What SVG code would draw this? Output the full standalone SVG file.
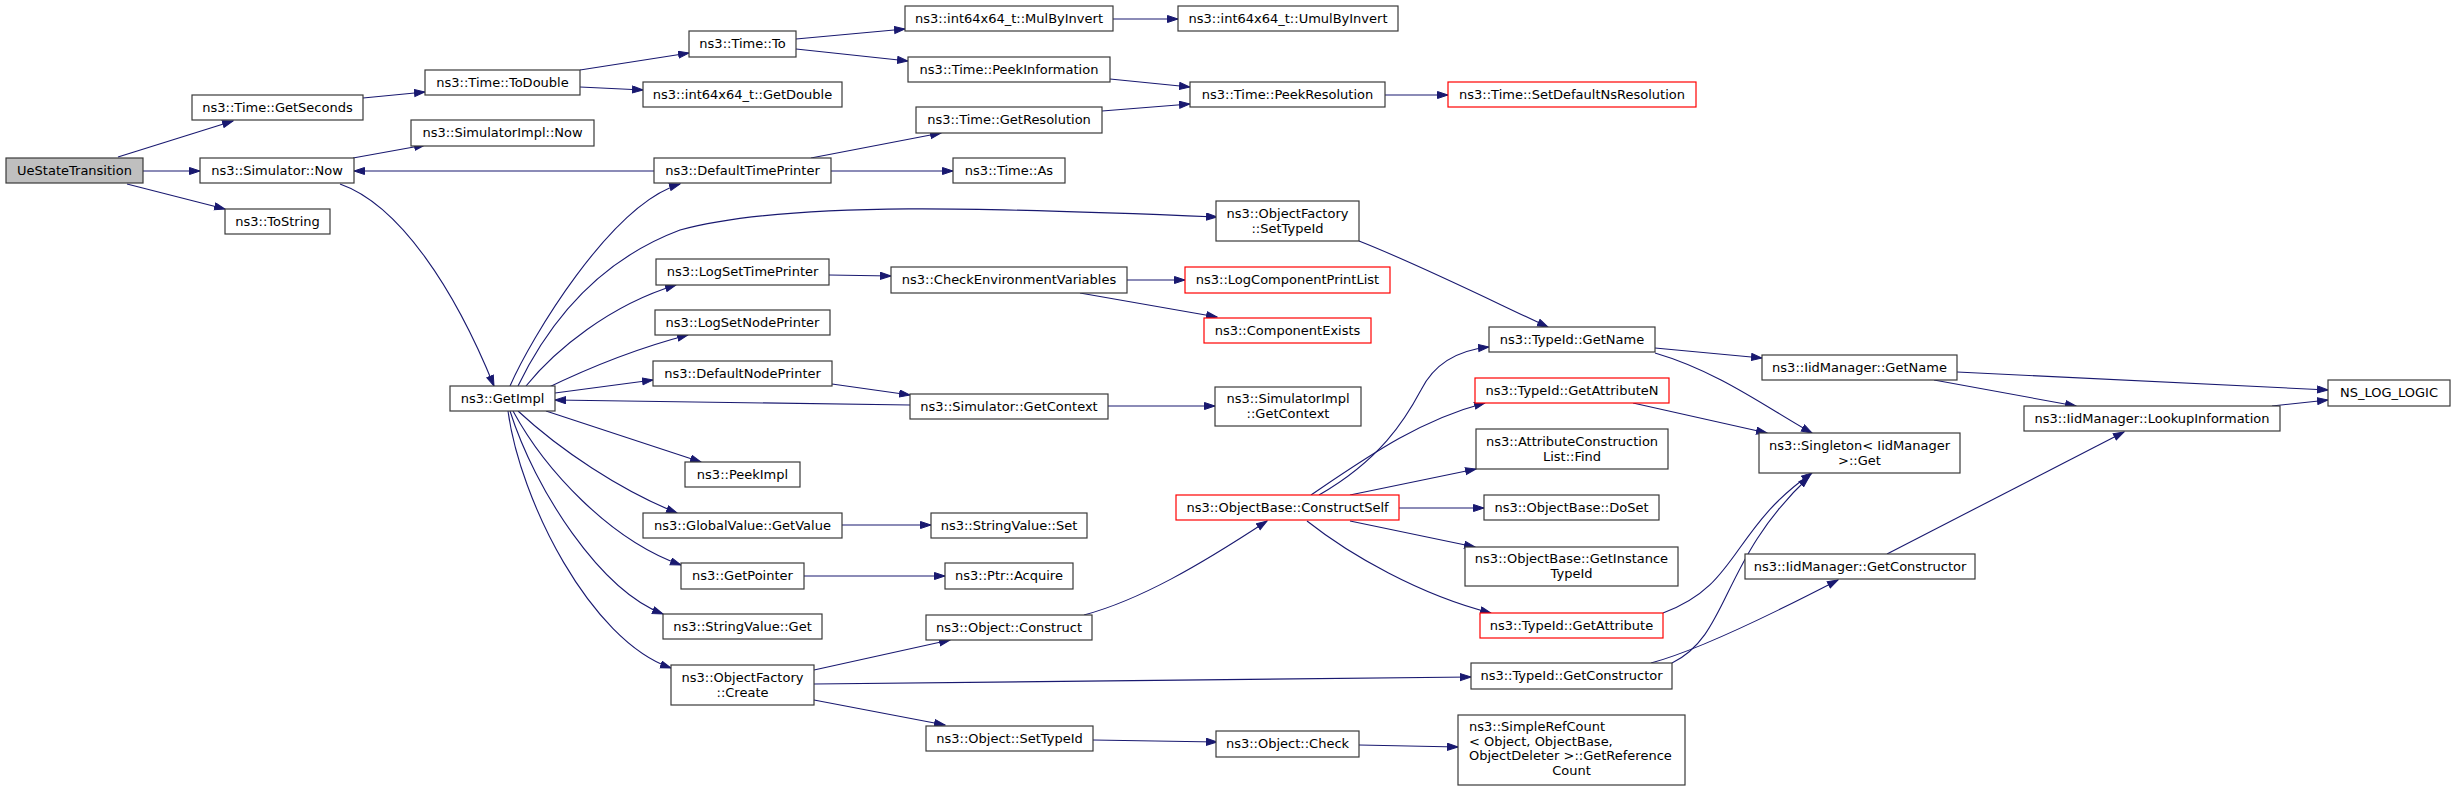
<svg xmlns="http://www.w3.org/2000/svg" width="2456" height="789" viewBox="0 0 2456 789">
<style>
.n rect{fill:#ffffff;stroke:#3a3a3a;stroke-width:1.2}
.n.root rect{fill:#bfbfbf}
.n.red rect{stroke:#ff0000}
.n text{font-family:"DejaVu Sans",sans-serif;font-size:13px;fill:#000000;text-anchor:middle}
.n text.l{text-anchor:start}
#edges path{fill:none;stroke:#191970;stroke-width:1.1;marker-end:url(#ah)}
</style>
<defs>
<marker id="ah" markerUnits="userSpaceOnUse" markerWidth="12" markerHeight="9" refX="11" refY="4" orient="auto">
<path d="M0.5,0.5 L11,4 L0.5,7.5 z" fill="#191970" stroke="#191970" stroke-width="1"/>
</marker>
</defs>
<rect x="0" y="0" width="2456" height="789" fill="#ffffff"/>
<g id="edges">
<path d="M118,157 L233,121"/>
<path d="M143,171 L200,171"/>
<path d="M127,184 L225,209"/>
<path d="M363,98 L425,92"/>
<path d="M580,70 L689,53"/>
<path d="M580,87 L643,90"/>
<path d="M796,39 L905,29"/>
<path d="M796,49 L908,61"/>
<path d="M1113,19 L1178,19"/>
<path d="M1110,79 L1190,87"/>
<path d="M1102,111 L1190,104"/>
<path d="M1385,95 L1448,95"/>
<path d="M353,158 L425,145"/>
<path d="M340,184 C400,205 455,290 494,386"/>
<path d="M654,171 L354,171"/>
<path d="M811,158 L941,133"/>
<path d="M831,171 L953,171"/>
<path d="M510,386 C530,340 610,205 680,184"/>
<path d="M518,386 C550,320 600,260 680,230 C790,200 1000,208 1217,217"/>
<path d="M526,386 C555,350 610,305 676,285"/>
<path d="M545,389 C580,372 630,350 688,335"/>
<path d="M555,393 L653,380"/>
<path d="M910,405 L555,400"/>
<path d="M832,384 L910,395"/>
<path d="M1108,406 L1215,406"/>
<path d="M546,411 L701,462"/>
<path d="M518,411 C560,450 620,490 677,513"/>
<path d="M513,411 C545,470 610,540 681,565"/>
<path d="M510,411 C535,490 600,590 663,614"/>
<path d="M508,411 C520,500 590,640 671,668"/>
<path d="M842,525 L931,525"/>
<path d="M804,576 L945,576"/>
<path d="M814,670 L950,640"/>
<path d="M814,684 L1471,677"/>
<path d="M814,700 L945,725"/>
<path d="M1093,740 L1217,742"/>
<path d="M1359,745 L1458,747"/>
<path d="M1084,615 C1140,600 1200,565 1267,521"/>
<path d="M1319,495 C1380,460 1405,420 1421,390 C1435,362 1460,350 1489,347"/>
<path d="M1311,495 C1370,455 1420,420 1485,403"/>
<path d="M1350,495 L1476,469"/>
<path d="M1399,508 L1484,508"/>
<path d="M1350,521 L1475,547"/>
<path d="M1307,521 C1350,555 1420,595 1491,613"/>
<path d="M1655,348 L1762,358"/>
<path d="M1655,353 C1720,372 1770,410 1812,433"/>
<path d="M1633,403 L1767,433"/>
<path d="M1663,613 C1740,585 1730,530 1812,473"/>
<path d="M1672,663 C1730,635 1720,560 1809,477"/>
<path d="M1651,663 C1700,650 1780,610 1838,580"/>
<path d="M1957,372 L2328,390"/>
<path d="M1934,380 L2076,406"/>
<path d="M1887,554 L2124,432"/>
<path d="M2272,406 L2328,400"/>
<path d="M1127,280 L1185,280"/>
<path d="M1080,293 L1217,317"/>
<path d="M829,275 L891,276"/>
<path d="M1359,241 C1420,265 1490,300 1548,327"/>
</g>
<g id="n_ue" class="n root"><rect x="6" y="158" width="137" height="25"/><text x="74.5" y="174.5">UeStateTransition</text></g>
<g id="n_getseconds" class="n"><rect x="192" y="95" width="171" height="25"/><text x="277.5" y="111.5">ns3::Time::GetSeconds</text></g>
<g id="n_simnow" class="n"><rect x="200" y="158" width="154" height="25"/><text x="277" y="174.5">ns3::Simulator::Now</text></g>
<g id="n_tostring" class="n"><rect x="225" y="209" width="105" height="25"/><text x="277.5" y="225.5">ns3::ToString</text></g>
<g id="n_todouble" class="n"><rect x="425" y="70" width="155" height="25"/><text x="502.5" y="86.5">ns3::Time::ToDouble</text></g>
<g id="n_simimplnow" class="n"><rect x="411" y="120" width="183" height="26"/><text x="502.5" y="137">ns3::SimulatorImpl::Now</text></g>
<g id="n_getimpl" class="n"><rect x="450" y="386" width="105" height="25"/><text x="502.5" y="402.5">ns3::GetImpl</text></g>
<g id="n_timeto" class="n"><rect x="689" y="31" width="107" height="26"/><text x="742.5" y="48">ns3::Time::To</text></g>
<g id="n_getdouble" class="n"><rect x="643" y="82" width="199" height="25"/><text x="742.5" y="98.5">ns3::int64x64_t::GetDouble</text></g>
<g id="n_dtp" class="n"><rect x="654" y="158" width="177" height="25"/><text x="742.5" y="174.5">ns3::DefaultTimePrinter</text></g>
<g id="n_lstp" class="n"><rect x="656" y="259" width="173" height="26"/><text x="742.5" y="276">ns3::LogSetTimePrinter</text></g>
<g id="n_lsnp" class="n"><rect x="655" y="310" width="175" height="25"/><text x="742.5" y="326.5">ns3::LogSetNodePrinter</text></g>
<g id="n_dnp" class="n"><rect x="653" y="361" width="179" height="25"/><text x="742.5" y="377.5">ns3::DefaultNodePrinter</text></g>
<g id="n_peekimpl" class="n"><rect x="685" y="462" width="115" height="25"/><text x="742.5" y="478.5">ns3::PeekImpl</text></g>
<g id="n_gvget" class="n"><rect x="643" y="513" width="199" height="25"/><text x="742.5" y="529.5">ns3::GlobalValue::GetValue</text></g>
<g id="n_getpointer" class="n"><rect x="681" y="563" width="123" height="26"/><text x="742.5" y="580">ns3::GetPointer</text></g>
<g id="n_svget" class="n"><rect x="663" y="614" width="159" height="25"/><text x="742.5" y="630.5">ns3::StringValue::Get</text></g>
<g id="n_ofcreate" class="n"><rect x="671" y="665" width="143" height="40"/><text x="742.5" y="681.5">ns3::ObjectFactory</text><text x="742.5" y="696.5">::Create</text></g>
<g id="n_mulbyinv" class="n"><rect x="905" y="6" width="208" height="25"/><text x="1009" y="22.5">ns3::int64x64_t::MulByInvert</text></g>
<g id="n_peekinfo" class="n"><rect x="908" y="57" width="202" height="25"/><text x="1009" y="73.5">ns3::Time::PeekInformation</text></g>
<g id="n_getres" class="n"><rect x="916" y="107" width="186" height="26"/><text x="1009" y="124">ns3::Time::GetResolution</text></g>
<g id="n_timeas" class="n"><rect x="953" y="158" width="112" height="25"/><text x="1009" y="174.5">ns3::Time::As</text></g>
<g id="n_checkenv" class="n"><rect x="891" y="267" width="236" height="26"/><text x="1009" y="284">ns3::CheckEnvironmentVariables</text></g>
<g id="n_simgetctx" class="n"><rect x="910" y="394" width="198" height="25"/><text x="1009" y="410.5">ns3::Simulator::GetContext</text></g>
<g id="n_svset" class="n"><rect x="931" y="513" width="156" height="25"/><text x="1009" y="529.5">ns3::StringValue::Set</text></g>
<g id="n_ptracq" class="n"><rect x="945" y="563" width="128" height="26"/><text x="1009" y="580">ns3::Ptr::Acquire</text></g>
<g id="n_objconstruct" class="n"><rect x="926" y="615" width="166" height="25"/><text x="1009" y="631.5">ns3::Object::Construct</text></g>
<g id="n_objsettypeid" class="n"><rect x="926" y="726" width="167" height="25"/><text x="1009.5" y="742.5">ns3::Object::SetTypeId</text></g>
<g id="n_umul" class="n"><rect x="1178" y="6" width="220" height="25"/><text x="1288" y="22.5">ns3::int64x64_t::UmulByInvert</text></g>
<g id="n_peekres" class="n"><rect x="1190" y="82" width="195" height="25"/><text x="1287.5" y="98.5">ns3::Time::PeekResolution</text></g>
<g id="n_ofsettypeid" class="n"><rect x="1216" y="201" width="143" height="40"/><text x="1287.5" y="217.5">ns3::ObjectFactory</text><text x="1287.5" y="232.5">::SetTypeId</text></g>
<g id="n_logcpl" class="n red"><rect x="1185" y="267" width="205" height="26"/><text x="1287.5" y="284">ns3::LogComponentPrintList</text></g>
<g id="n_compexists" class="n red"><rect x="1204" y="318" width="167" height="25"/><text x="1287.5" y="334.5">ns3::ComponentExists</text></g>
<g id="n_simimplgetctx" class="n"><rect x="1215" y="387" width="146" height="39"/><text x="1288" y="403">ns3::SimulatorImpl</text><text x="1288" y="418">::GetContext</text></g>
<g id="n_constructself" class="n red"><rect x="1176" y="495" width="223" height="25"/><text x="1287.5" y="511.5">ns3::ObjectBase::ConstructSelf</text></g>
<g id="n_objcheck" class="n"><rect x="1216" y="731" width="143" height="26"/><text x="1287.5" y="748">ns3::Object::Check</text></g>
<g id="n_setdefns" class="n red"><rect x="1448" y="82" width="248" height="25"/><text x="1572" y="98.5">ns3::Time::SetDefaultNsResolution</text></g>
<g id="n_tidgetname" class="n"><rect x="1489" y="327" width="166" height="25"/><text x="1572" y="343.5">ns3::TypeId::GetName</text></g>
<g id="n_getattrn" class="n red"><rect x="1475" y="378" width="194" height="25"/><text x="1572" y="394.5">ns3::TypeId::GetAttributeN</text></g>
<g id="n_aclfind" class="n"><rect x="1476" y="429" width="192" height="40"/><text x="1572" y="445.5">ns3::AttributeConstruction</text><text x="1572" y="460.5">List::Find</text></g>
<g id="n_doset" class="n"><rect x="1484" y="495" width="175" height="25"/><text x="1571.5" y="511.5">ns3::ObjectBase::DoSet</text></g>
<g id="n_getinsttid" class="n"><rect x="1465" y="547" width="213" height="39"/><text x="1571.5" y="563">ns3::ObjectBase::GetInstance</text><text x="1571.5" y="578">TypeId</text></g>
<g id="n_getattr" class="n red"><rect x="1480" y="613" width="183" height="25"/><text x="1571.5" y="629.5">ns3::TypeId::GetAttribute</text></g>
<g id="n_tidgetctor" class="n"><rect x="1471" y="663" width="201" height="26"/><text x="1571.5" y="680">ns3::TypeId::GetConstructor</text></g>
<g id="n_simplerefcount" class="n"><rect x="1458" y="715" width="227" height="70"/><text class="l" x="1469" y="731">ns3::SimpleRefCount</text><text class="l" x="1469" y="745.5">&lt; Object, ObjectBase,</text><text class="l" x="1469" y="760"> ObjectDeleter &gt;::GetReference</text><text x="1571.5" y="774.5">Count</text></g>
<g id="n_iidgetname" class="n"><rect x="1762" y="355" width="195" height="25"/><text x="1859.5" y="371.5">ns3::IidManager::GetName</text></g>
<g id="n_singleton" class="n"><rect x="1759" y="433" width="201" height="40"/><text x="1859.5" y="449.5">ns3::Singleton&lt; IidManager</text><text x="1859.5" y="464.5">&gt;::Get</text></g>
<g id="n_iidgetctor" class="n"><rect x="1745" y="554" width="230" height="25"/><text x="1860" y="570.5">ns3::IidManager::GetConstructor</text></g>
<g id="n_lookup" class="n"><rect x="2024" y="406" width="256" height="25"/><text x="2152" y="422.5">ns3::IidManager::LookupInformation</text></g>
<g id="n_nslog" class="n"><rect x="2328" y="380" width="122" height="26"/><text x="2389" y="397">NS_LOG_LOGIC</text></g>
</svg>
